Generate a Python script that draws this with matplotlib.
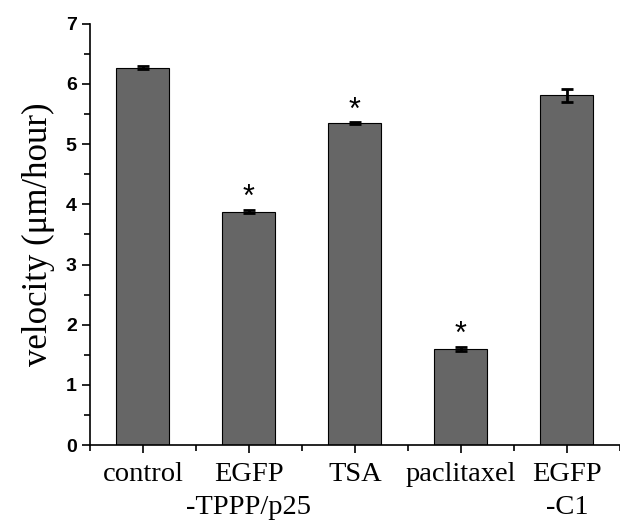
import numpy as np
import matplotlib.pyplot as plt
from matplotlib.ticker import MultipleLocator

groups = ['control', 'EGFP\n-TPPP/p25', 'TSA', 'paclitaxel', 'EGFP\n-C1']
velocity = [6.27, 3.88, 5.35, 1.60, 5.81]
sem = [0.02, 0.02, 0.01, 0.03, 0.11]
significant = [False, True, True, True, False]

fig = plt.figure(figsize=(6.2, 5.28), dpi=100)
ax = fig.add_axes([0.145, 0.157, 0.855, 0.798])

x = np.arange(1, len(groups) + 1)
ax.bar(x, velocity, width=0.5, color='#666666', edgecolor='black', linewidth=0.8,
       yerr=sem, error_kw=dict(ecolor='black', elinewidth=2, capsize=4, capthick=2))

for xi, v, e, s in zip(x, velocity, sem, significant):
    if s:
        ax.text(xi, v + e + 0.2, '*', ha='center', va='center', fontsize=22,
                family='Liberation Sans')

ax.set_xlim(0.5, 5.5)
ax.set_ylim(0, 7)
ax.spines['top'].set_visible(False)
ax.spines['right'].set_visible(False)
ax.spines['left'].set_linewidth(1.2)
ax.spines['bottom'].set_linewidth(1.2)

ax.set_xticks(x)
ax.set_xticklabels(groups, family='Liberation Serif', fontsize=20.5, linespacing=1.45)
ax.xaxis.set_minor_locator(MultipleLocator(1, offset=0.5))
ax.yaxis.set_major_locator(MultipleLocator(1))
ax.yaxis.set_minor_locator(MultipleLocator(0.5))
ax.tick_params(axis='both', which='both', direction='out', width=1.2)
ax.tick_params(axis='both', which='major', length=6)
ax.tick_params(axis='both', which='minor', length=4)
ax.tick_params(axis='x', which='major', pad=6)
for lab in ax.get_yticklabels():
    lab.set_family('Liberation Sans')
    lab.set_fontweight('bold')
    lab.set_fontsize(14)

ax.set_ylabel('velocity (\u03bcm/hour)', family='Liberation Serif', fontsize=25, labelpad=8)

fig.savefig('out.png', dpi=100)
